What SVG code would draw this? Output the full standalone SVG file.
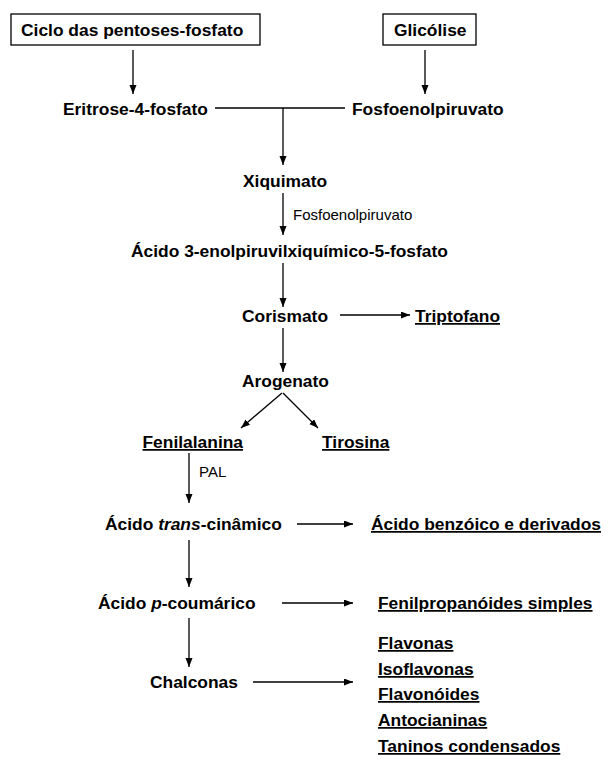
<svg xmlns="http://www.w3.org/2000/svg" width="611" height="763" viewBox="0 0 611 763">
<defs>
<marker id="ah" markerUnits="userSpaceOnUse" markerWidth="10" markerHeight="8" refX="9" refY="3.5" orient="auto">
<path d="M0,0 L9,3.5 L0,7 z" fill="#000"/>
</marker>
<style>
.b{font-family:"Liberation Sans",Arial,sans-serif;font-weight:bold;font-size:17.4px;fill:#000}
.s{font-family:"Liberation Sans",Arial,sans-serif;font-size:15px;fill:#000}
.u{text-decoration:underline}
.i{font-style:italic}
.box{fill:#fff;stroke:#000;stroke-width:1.3}
.ln{stroke:#000;stroke-width:1.3;fill:none}
.ar{stroke:#000;stroke-width:1.3;fill:none;marker-end:url(#ah)}
</style>
</defs>
<rect width="611" height="763" fill="#fff"/>
<g id="ciclo"><rect class="box" x="11" y="14" width="249" height="31"/><text class="b" x="21" y="36">Ciclo das pentoses-fosfato</text></g>
<g id="glicolise"><rect class="box" x="383" y="14" width="93" height="31"/><text class="b" x="394" y="36">Glicólise</text></g>
<g id="eritrose"><text class="b" x="63" y="115">Eritrose-4-fosfato</text></g>
<g id="fosfo"><text class="b" x="352" y="115">Fosfoenolpiruvato</text></g>
<g id="xiquimato"><text class="b" x="243" y="187">Xiquimato</text></g>
<g id="enolpiruvil"><text class="b" x="131" y="257">Ácido 3-enolpiruvilxiquímico-5-fosfato</text></g>
<g id="corismato"><text class="b" x="242" y="322">Corismato</text></g>
<g id="triptofano"><text class="b u" x="415" y="322">Triptofano</text></g>
<g id="arogenato"><text class="b" x="242" y="387">Arogenato</text></g>
<g id="fenilalanina"><text class="b u" x="142.5" y="448">Fenilalanina</text></g>
<g id="tirosina"><text class="b u" x="322" y="448">Tirosina</text></g>
<g id="cinamico"><text class="b" x="105" y="530">Ácido <tspan class="i">trans</tspan>-cinâmico</text></g>
<g id="benzoico"><text class="b u" x="371" y="530">Ácido benzóico e derivados</text></g>
<g id="coumarico"><text class="b" x="98" y="609">Ácido <tspan class="i">p</tspan>-coumárico</text></g>
<g id="fenilpropanoides"><text class="b u" x="378" y="609">Fenilpropanóides simples</text></g>
<g id="chalconas"><text class="b" x="150" y="688">Chalconas</text></g>
<g id="flavonas"><text class="b u" x="378" y="649">Flavonas</text></g>
<g id="isoflavonas"><text class="b u" x="378" y="675">Isoflavonas</text></g>
<g id="flavonoides"><text class="b u" x="378" y="700">Flavonóides</text></g>
<g id="antocianinas"><text class="b u" x="378" y="726">Antocianinas</text></g>
<g id="taninos"><text class="b u" x="378" y="752">Taninos condensados</text></g>
<g id="connectors">
<line class="ar" x1="133" y1="50" x2="133" y2="94"/>
<line class="ar" x1="425" y1="50" x2="425" y2="94"/>
<line class="ln" x1="215" y1="108" x2="345" y2="108"/>
<line class="ar" x1="283" y1="108" x2="283" y2="165"/>
<line class="ar" x1="283" y1="193" x2="283" y2="235"/>
<text class="s" x="293" y="220">Fosfoenolpiruvato</text>
<line class="ar" x1="283" y1="263" x2="283" y2="307"/>
<line class="ar" x1="340" y1="315" x2="410" y2="315"/>
<line class="ar" x1="283" y1="328" x2="283" y2="372"/>
<line class="ar" x1="282" y1="393" x2="241" y2="428"/>
<line class="ar" x1="283" y1="393" x2="318" y2="428"/>
<line class="ar" x1="189" y1="453" x2="189" y2="503"/>
<text class="s" x="199" y="477">PAL</text>
<line class="ar" x1="297" y1="524" x2="353" y2="524"/>
<line class="ar" x1="189" y1="540" x2="189" y2="587"/>
<line class="ar" x1="282" y1="603" x2="353" y2="603"/>
<line class="ar" x1="189" y1="618" x2="189" y2="667"/>
<line class="ar" x1="253" y1="682" x2="353" y2="682"/>
</g>
</svg>
